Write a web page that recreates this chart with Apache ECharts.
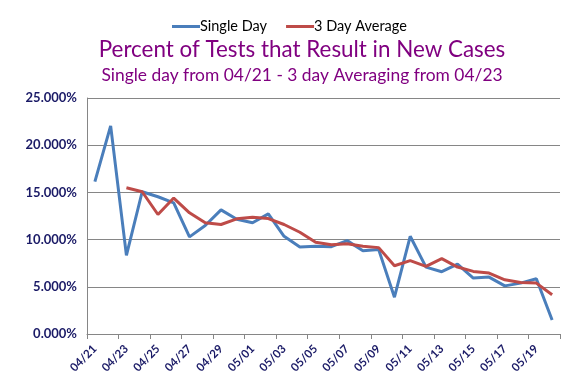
<!DOCTYPE html>
<html>
<head>
<meta charset="utf-8">
<script src="https://cdn.jsdelivr.net/npm/echarts@6/dist/echarts.min.js"></script>
<style>
html,body{margin:0;padding:0;background:#fff;}
#chart{width:576px;height:384px;}
</style>
</head>
<body>
<div id="chart"></div>
<script>
var categories = ["04/21","04/22","04/23","04/24","04/25","04/26","04/27","04/28","04/29","04/30",
  "05/01","05/02","05/03","05/04","05/05","05/06","05/07","05/08","05/09","05/10",
  "05/11","05/12","05/13","05/14","05/15","05/16","05/17","05/18","05/19","05/20"];
var singleDay = [16.14,22.05,8.33,15.07,14.54,13.9,10.29,11.49,13.15,12.15,
  11.78,12.73,10.35,9.22,9.29,9.25,9.89,8.83,8.94,3.9,
  10.35,7.09,6.6,7.41,5.93,6.03,5.1,5.39,5.85,1.49];
var threeDayAvg = [null,null,15.5,15.07,12.66,14.4,12.84,11.78,11.6,12.2,
  12.37,12.23,11.6,10.78,9.71,9.45,9.57,9.29,9.15,7.23,
  7.77,7.16,7.98,7.09,6.63,6.45,5.74,5.46,5.39,4.15];
var yTicks = {min:0, max:25, interval:5};
var titleText = "Percent of Tests that Result in New Cases";
var subtitleText = "Single day from 04/21 - 3 day Averaging from 04/23";

var chart = echarts.init(document.getElementById('chart'), null, {renderer:'canvas'});
var navy = '#1a1a66';
chart.setOption({
  animation:false,
  textStyle:{fontFamily:'Lato'},
  title:{
    text:titleText, subtext:subtitleText, left:297, textAlign:'center', top:34,
    textStyle:{color:'#800080', fontSize:22.4, fontWeight:'normal', fontFamily:'Lato'},
    subtextStyle:{color:'#800080', fontSize:17.4, fontFamily:'Lato'},
    itemGap:6
  },
  legend:{
    top:14, left:167, icon:'rect', itemWidth:28, itemHeight:3, itemGap:19,
    textStyle:{color:'#000', fontSize:14.5, fontFamily:'Lato', padding:[0,0,0,-5]},
    data:['Single Day','3 Day Average']
  },
  grid:{left:87, right:16, top:98, bottom:50},
  xAxis:{
    type:'category', data:categories, boundaryGap:true,
    axisLine:{lineStyle:{color:'#868686', width:1}},
    axisTick:{show:true, interval:1, length:5, lineStyle:{color:'#868686'}},
    axisLabel:{interval:1, rotate:45, color:navy, fontSize:11.5, fontWeight:'bold', fontFamily:'Lato', margin:13},
    splitLine:{show:false}
  },
  yAxis:{
    type:'value', min:yTicks.min, max:yTicks.max, interval:yTicks.interval,
    axisLine:{show:true, lineStyle:{color:'#868686'}},
    axisTick:{show:false},
    axisLabel:{color:navy, fontSize:13, fontWeight:'bold', fontFamily:'Lato', margin:10,
      formatter:function(v){return v.toFixed(3)+'%';}},
    splitLine:{lineStyle:{color:'#868686', width:1}}
  },
  series:[
    {name:'Single Day', type:'line', data:singleDay, showSymbol:false, symbol:'none',
      lineStyle:{color:'#4a7ebb', width:3}, itemStyle:{color:'#4a7ebb'}},
    {name:'3 Day Average', type:'line', data:threeDayAvg, showSymbol:false, symbol:'none',
      lineStyle:{color:'#be4b48', width:3}, itemStyle:{color:'#be4b48'}}
  ]
});
</script>
</body>
</html>
